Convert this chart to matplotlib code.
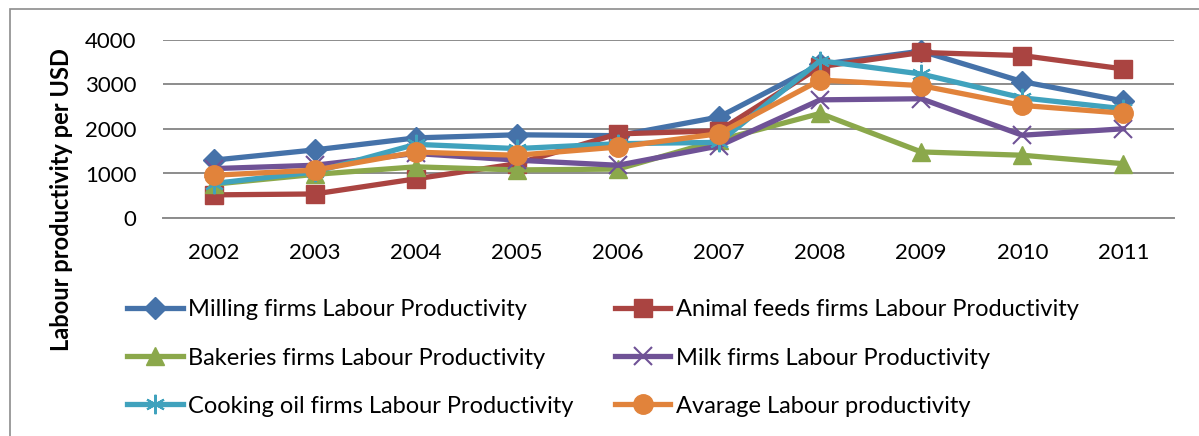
import matplotlib
matplotlib.use("Agg")
import matplotlib.pyplot as plt
from matplotlib.patches import Rectangle

years = ["2002", "2003", "2004", "2005", "2006", "2007", "2008", "2009", "2010", "2011"]
milling = [1300, 1530, 1800, 1870, 1850, 2270, 3450, 3750, 3065, 2630]
animal = [520, 540, 880, 1220, 1890, 1960, 3400, 3720, 3650, 3350]
bakeries = [760, 980, 1150, 1080, 1100, 1750, 2350, 1485, 1410, 1220]
milk = [1110, 1185, 1450, 1300, 1185, 1620, 2655, 2680, 1860, 2005]
cooking = [775, 1035, 1655, 1560, 1670, 1700, 3535, 3235, 2700, 2455]
average = [960, 1075, 1480, 1410, 1595, 1895, 3100, 2975, 2530, 2355]

labels = ["Milling firms Labour Productivity", "Animal feeds firms Labour Productivity",
          "Bakeries firms Labour Productivity", "Milk firms Labour Productivity",
          "Cooking oil firms Labour Productivity", "Avarage Labour productivity"]
series = [milling, animal, bakeries, milk, cooking, average]
colors = ["#4572A9", "#AA4441", "#8BA84B", "#6F5296", "#40A2BD", "#E1833B"]
markers = ["D", "s", "^", "x", "*", "o"]
msizes = [11, 13, 13, 13, 14, 14]

plt.rcParams['font.family'] = ['Lato', 'DejaVu Sans']

W, H = 1199, 436
fig = plt.figure(figsize=(W / 100, H / 100), dpi=100)
ax = fig.add_axes([163 / W, 1 - 218 / H, (1174 - 163) / W, (218 - 40) / H])

x = list(range(len(years)))
handles = []
for vals, lab, c, m, ms in zip(series, labels, colors, markers, msizes):
    kw = {}
    if m in ("x", "*"):
        kw = dict(markeredgewidth=1.5, markeredgecolor=c)
        if m == "*":
            m = (6, 2, 0)
    ln, = ax.plot(x, vals, color=c, lw=3.8, marker=m, markersize=ms, label=lab,
                  solid_joinstyle='round', **kw)
    handles.append(ln)

ax.set_xlim(-0.5, len(years) - 0.5)
ax.set_ylim(0, 4000)
ax.set_yticks([0, 1000, 2000, 3000, 4000])
ax.set_xticks(x)
ax.set_xticklabels(years)
ax.grid(axis='y', color='#8C8C8C', lw=1.4)
ax.set_axisbelow(True)
for s in ['top', 'right', 'left']:
    ax.spines[s].set_visible(False)
ax.spines['bottom'].set_color('#8C8C8C')
ax.spines['bottom'].set_linewidth(1.4)
ax.tick_params(axis='both', length=0, labelsize=16)
ax.tick_params(axis='y', pad=19)
ax.tick_params(axis='x', pad=18)

fig.text(62 / W, 1 - 200 / H, "Labour productivity per USD", rotation=90,
         ha='center', va='center', fontsize=17, fontweight='bold')

order = [0, 2, 4, 1, 3, 5]
leg = fig.legend([handles[i] for i in order], [labels[i] for i in order], ncol=2,
                 loc='upper left', bbox_to_anchor=(118 / W, 1 - 290 / H),
                 frameon=False, fontsize=17, handlelength=2.35, handletextpad=0.22,
                 columnspacing=1.75, labelspacing=1.15, borderaxespad=0)

fig.patches.append(Rectangle((10 / W, -0.1), 1.5, 1 - 9 / H + 0.1, transform=fig.transFigure,
                             fill=False, edgecolor='#8C8C8C', lw=1.2))

fig.savefig("out.png", dpi=100)
